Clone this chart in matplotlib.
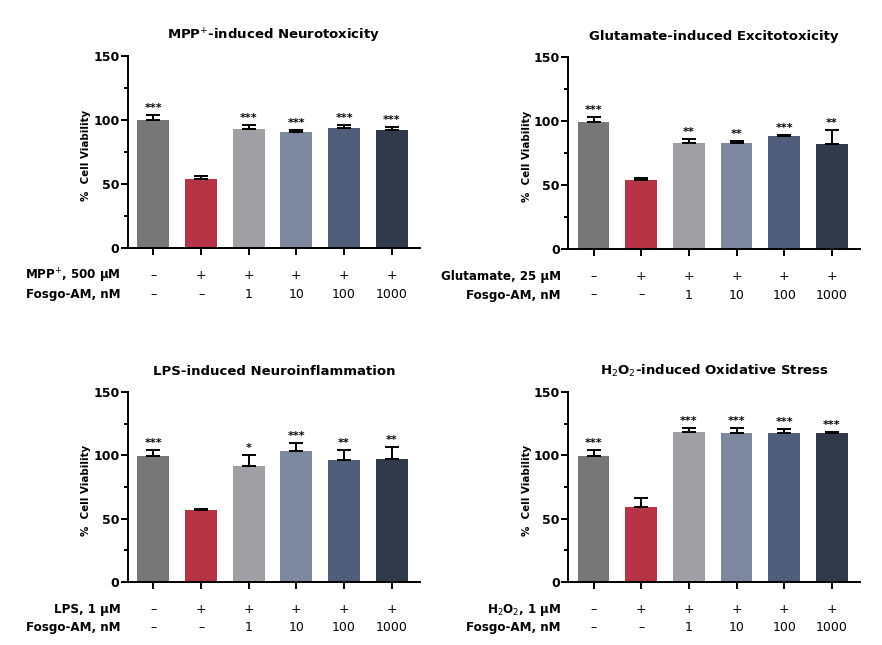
import matplotlib.pyplot as plt
from matplotlib.ticker import MultipleLocator
import matplotlib.transforms as mtransforms

plt.rcParams['font.family'] = ['DejaVu Sans']

# data
titles = ['MPP$^{+}$-induced Neurotoxicity', 'Glutamate-induced Excitotoxicity',
          'LPS-induced Neuroinflammation', 'H$_{2}$O$_{2}$-induced Oxidative Stress']
toxin_labels = ['MPP$^{+}$, 500 µM', 'Glutamate, 25 µM', 'LPS, 1 µM', 'H$_{2}$O$_{2}$, 1 µM']
drug_label = 'Fosgo-AM, nM'
toxin_row = ['–', '+', '+', '+', '+', '+']
drug_row = ['–', '–', '1', '10', '100', '1000']

mpp_mean = [100, 54, 93.3, 90.7, 93.6, 92.5]
mpp_err = [4.2, 2.2, 3.0, 1.6, 2.8, 2.1]
glu_mean = [99.5, 54.2, 83.2, 82.8, 88.2, 81.9]
glu_err = [4.0, 1.0, 3.0, 1.8, 1.2, 10.8]
lps_mean = [99.6, 56.6, 91.2, 103.6, 96.2, 96.9]
lps_err = [4.4, 1.0, 9.0, 5.8, 8.0, 9.4]
h2o2_mean = [99.6, 59.2, 118.6, 117.8, 117.3, 117.3]
h2o2_err = [4.4, 6.8, 2.8, 3.6, 3.2, 1.0]

stars = [['***', '', '***', '***', '***', '***'],
         ['***', '', '**', '**', '***', '**'],
         ['***', '', '*', '***', '**', '**'],
         ['***', '', '***', '***', '***', '***']]

means = [mpp_mean, glu_mean, lps_mean, h2o2_mean]
errs = [mpp_err, glu_err, lps_err, h2o2_err]

colors = ['#777777', '#b53547', '#a0a0a4', '#7d879d', '#505e7c', '#313a4b']

positions = [[0.145, 0.6155, 0.331, 0.2975],
             [0.644, 0.6140, 0.331, 0.2975],
             [0.145, 0.0977, 0.331, 0.2946],
             [0.644, 0.0977, 0.331, 0.2946]]

fig = plt.figure(figsize=(8.82, 6.45), dpi=100)

for k in range(4):
    ax = fig.add_axes(positions[k])
    x = list(range(6))
    ax.bar(x, means[k], width=0.67, color=colors, zorder=2)
    ax.errorbar(x, means[k], yerr=[[0] * 6, errs[k]], fmt='none', ecolor='black',
                elinewidth=1.4, capsize=5.2, capthick=1.4, zorder=3)
    for i in x:
        if stars[k][i]:
            ax.text(i, means[k][i] + errs[k][i] + 1.5, stars[k][i], ha='center',
                    va='bottom', fontsize=8, fontweight='bold')
    ax.set_xlim(-0.535, 5.59)
    ax.set_ylim(0, 150)
    ax.yaxis.set_major_locator(MultipleLocator(50))
    ax.yaxis.set_minor_locator(MultipleLocator(25))
    ax.set_xticks(x)
    ax.set_xticklabels([])
    ax.tick_params(axis='both', which='major', length=5, width=1.4, direction='out')
    ax.tick_params(axis='y', which='minor', length=3, width=1.4)
    ax.tick_params(axis='y', labelsize=9, pad=1)
    for lab in ax.get_yticklabels():
        lab.set_fontweight('bold')
    for s in ['top', 'right']:
        ax.spines[s].set_visible(False)
    for s in ['left', 'bottom']:
        ax.spines[s].set_linewidth(1.4)
    ax.set_ylabel('%  Cell Viability', fontsize=7.4, fontweight='bold')
    ax.yaxis.set_label_coords(-0.125, 0.48)
    ax.set_title(titles[k], fontsize=9.5, fontweight='bold', pad=12)

    trans = mtransforms.blended_transform_factory(ax.transData, ax.transAxes)
    for i in x:
        ax.text(i, -0.145, toxin_row[i], transform=trans, ha='center', va='center', fontsize=9)
        ax.text(i, -0.24, drug_row[i], transform=trans, ha='center', va='center', fontsize=9)
    ax.text(-0.025, -0.145, toxin_labels[k], transform=ax.transAxes, ha='right',
            va='center', fontsize=8.6, fontweight='bold')
    ax.text(-0.025, -0.24, drug_label, transform=ax.transAxes, ha='right',
            va='center', fontsize=8.6, fontweight='bold')

fig.savefig('out.png', dpi=100, facecolor='white')
